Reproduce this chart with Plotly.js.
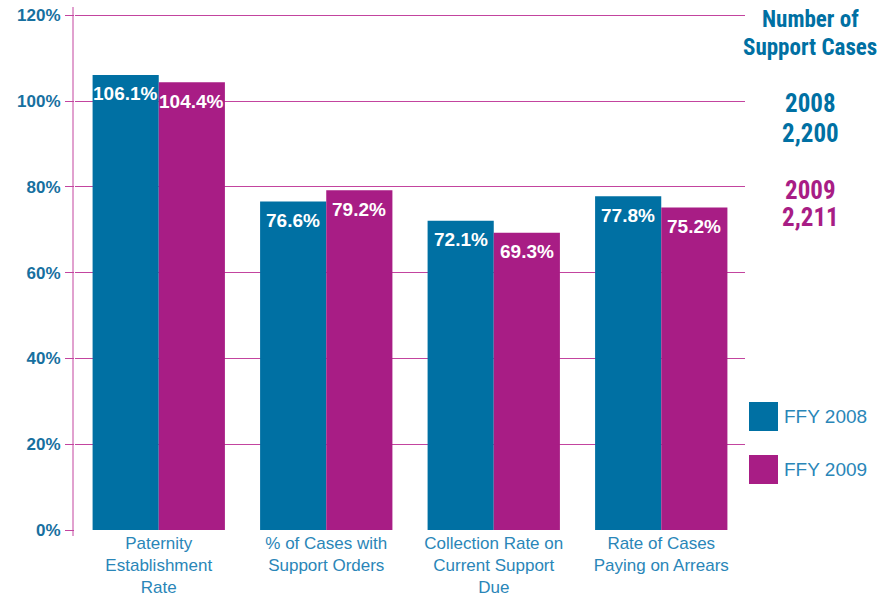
<!DOCTYPE html>
<html>
<head>
<meta charset="utf-8">
<script src="https://cdn.plot.ly/plotly-3.0.1.min.js"></script>
<style>
html,body{margin:0;padding:0;background:#fff;}
#chart{width:881px;height:597px;}
</style>
</head>
<body>
<div id="chart"></div>
<script>
// ---- data ----
var categories = [
  "Paternity<br>Establishment<br>Rate",
  "% of Cases with<br>Support Orders",
  "Collection Rate on<br>Current Support<br>Due",
  "Rate of Cases<br>Paying on Arrears"
];
var seriesNames = ["FFY 2008", "FFY 2009"];
var values2008 = [106.1, 76.6, 72.1, 77.8];
var values2009 = [104.4, 79.2, 69.3, 75.2];
var tickValues = [0, 20, 40, 60, 80, 100, 120];
var tickLabels = ["0%", "20%", "40%", "60%", "80%", "100%", "120%"];
var casesTitle = ["Number of", "Support Cases"];
var casesYears = ["2008", "2009"];
var casesCounts = ["2,200", "2,211"];

// ---- styles ----
var BLUE = "#0070a3";
var MAGENTA = "#a81d85";
var GRID = "#c3449f";
var TICKTXT = "#17709f";
var CATTXT = "#2a86b8";
var FONT = "Liberation Sans, Arial, sans-serif";
var NARROW = "Liberation Sans Narrow, Arial Narrow, Roboto Condensed, Liberation Sans, Arial, sans-serif";

function pct(v){ return v.toFixed(1) + "%"; }

var traces = [
  {type:"bar", name:seriesNames[0], x:categories, y:values2008,
   marker:{color:BLUE, line:{width:0}}, showlegend:false, hoverinfo:"none"},
  {type:"bar", name:seriesNames[1], x:categories, y:values2009,
   marker:{color:MAGENTA, line:{width:0}}, showlegend:false, hoverinfo:"none"}
];

var L = 75, R = 745, T = 11, B = 530, W = 881, H = 597;
function px(x){ return (x - L) / (R - L); }
function py(y){ return (B - y) / (B - T); }

function note(text, xp, yp, size, color, anchor, bold){
  return {xref:"paper", yref:"paper", x:px(xp), y:py(yp), xanchor:anchor||"center", yanchor:"middle",
          text: bold ? "<b>"+text+"</b>" : text, showarrow:false,
          font:{family: bold ? NARROW : FONT, size:size, color:color}};
}

var annotations = [
  note(casesTitle[0], 810, 19, 23, BLUE, "center", true),
  note(casesTitle[1], 810, 48, 23, BLUE, "center", true),
  note(casesYears[0], 810, 104, 25, BLUE, "center", true),
  note(casesCounts[0], 810, 133, 25, BLUE, "center", true),
  note(casesYears[1], 810, 190, 25, MAGENTA, "center", true),
  note(casesCounts[1], 810, 218, 25, MAGENTA, "center", true),
  note(seriesNames[0], 782, 416.5, 19, CATTXT, "left", false),
  note(seriesNames[1], 782, 469.5, 19, CATTXT, "left", false)
];

// value labels inside the top of each bar
var HALF_BAR = 33;
[values2008, values2009].forEach(function(vals, s){
  vals.forEach(function(v, i){
    annotations.push({xref:"x", yref:"y", x:categories[i], y:v,
      xshift: s === 0 ? -HALF_BAR : HALF_BAR, yshift:-19,
      xanchor:"center", yanchor:"middle", showarrow:false,
      text:"<b>"+pct(v)+"</b>",
      font:{family:FONT, size:19, color:"#ffffff"}});
  });
});

var shapes = [
  {type:"rect", xref:"paper", yref:"paper", x0:px(749), x1:px(778), y0:py(431), y1:py(402),
   fillcolor:BLUE, line:{width:0}},
  {type:"rect", xref:"paper", yref:"paper", x0:px(749), x1:px(778), y0:py(484), y1:py(455),
   fillcolor:MAGENTA, line:{width:0}},
  // left axis line extends slightly beyond the plot area
  {type:"line", xref:"paper", yref:"paper", x0:px(73), x1:px(73), y0:py(536), y1:py(7),
   line:{color:GRID, width:1}}
];

var layout = {
  width:W, height:H,
  margin:{l:L, r:W-R, t:T, b:H-B, pad:0},
  paper_bgcolor:"#ffffff", plot_bgcolor:"#ffffff",
  barmode:"group", bargap:0.21, bargroupgap:0,
  font:{family:FONT},
  xaxis:{type:"category", showgrid:false, zeroline:false, showline:false,
         ticks:"", tickfont:{family:FONT, size:17, color:CATTXT}, automargin:false,
         ticklabelstandoff:1},
  yaxis:{range:[0,121], tickvals:tickValues, ticktext:tickLabels,
         showgrid:true, gridcolor:GRID, gridwidth:1, zeroline:false,
         showline:false, ticks:"outside", ticklen:9, tickcolor:GRID, tickwidth:1,
         tickfont:{family:FONT, size:17, color:TICKTXT, weight:"bold"},
         ticklabelstandoff:1, automargin:false, fixedrange:true},
  annotations:annotations,
  shapes:shapes,
  showlegend:false
};

Plotly.newPlot("chart", traces, layout, {staticPlot:true, displayModeBar:false});
</script>
</body>
</html>
